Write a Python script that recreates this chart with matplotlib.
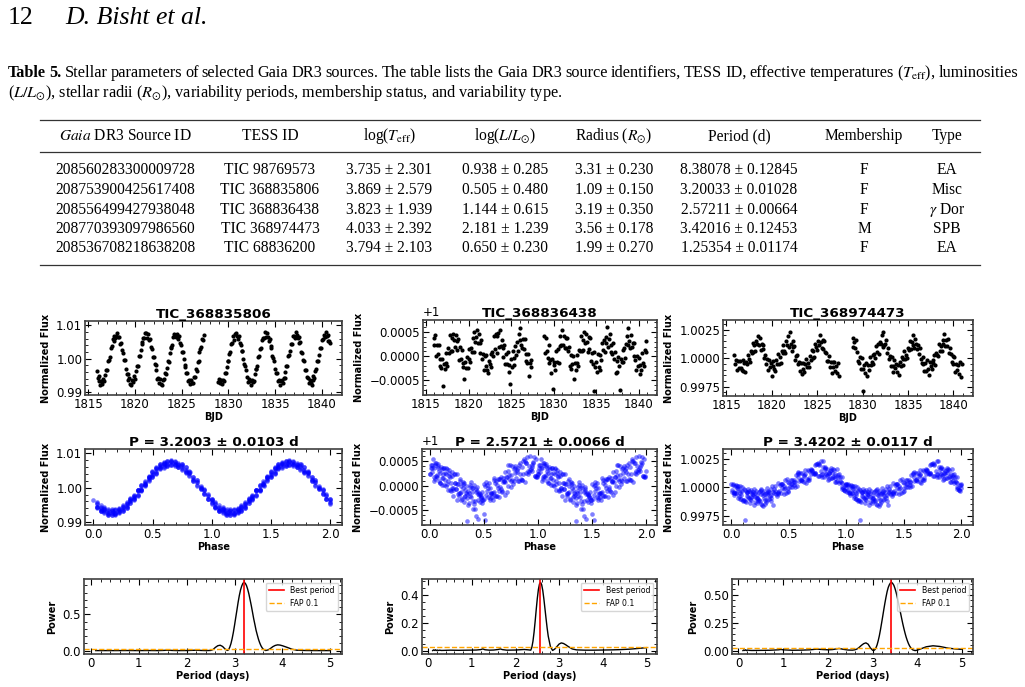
import matplotlib
matplotlib.use("Agg")
import matplotlib.pyplot as plt
import numpy as np
from matplotlib.lines import Line2D

# ---------------- table 5 ----------------
gaia_ids = ["208560283300009728", "208753900425617408", "208556499427938048",
            "208770393097986560", "208536708218638208"]
tess_ids = ["TIC 98769573", "TIC 368835806", "TIC 368836438", "TIC 368974473", "TIC 68836200"]
log_teff = [3.735, 3.869, 3.823, 4.033, 3.794]
log_teff_err = [2.301, 2.579, 1.939, 2.392, 2.103]
log_lum = [0.938, 0.505, 1.144, 2.181, 0.650]
log_lum_err = [0.285, 0.480, 0.615, 1.239, 0.230]
radius = [3.31, 1.09, 3.19, 3.56, 1.99]
radius_err = [0.230, 0.150, 0.350, 0.178, 0.270]
period = [8.38078, 3.20033, 2.57211, 3.42016, 1.25354]
period_err = [0.12845, 0.01028, 0.00664, 0.12453, 0.01174]
membership = ["F", "F", "F", "M", "F"]
var_type = ["EA", "Misc", r"$\gamma$ Dor", "SPB", "EA"]

# ---------------- light curves (TESS, BJD - 2457000) ----------------
tic_names = ["TIC_368835806", "TIC_368836438", "TIC_368974473"]
orbit_start = [1815.9, 1828.9]   # first cadence of each orbit
cadence = 0.1                    # days

# TIC 368835806: (flux - 1) in units of 1e-4
lc1_orbit1 = [-37, -57, -52, -68, -79, -67, -75, -60, -68, -49, -34, -33, -6, -4, 6, 31, 39, 58, 54, 69,
              62, 68, 77, 65, 65, 43, 47, 25, 16, -5, -4, -32,
              -47, -47, -63, -57, -75, -80, -65, -69, -53, -60, -37, -23, -21, 7, 9, 26, 49, 43, 62, 61,
              78, 76, 63, 73, 57, 60, 34, 30, 6, 6, -15, -19,
              -35, -60, -58, -72, -62, -75, -78, -63, -62, -42, -45, -27, -8, -9, 16, 33, 36, 41, 65, 74,
              69, 66, 74, 60, 69, 47, 42, 20, 21, 0, -18, -24,
              -44, -44, -68, -63, -76, -63, -73, -74, -55, -54, -32, -37, -11, -6, 20, 29, 34, 59, 57, 72]
lc1_orbit2 = [-69, -60, -73, -64, -76, -65, -68, -44, -44, -25, -6, -7, 14, 20, 45, 48, 68, 57, 75, 78,
              68, 59, 69, 46, 42, 22, 22, 0, -17, -22,
              -34, -55, -69, -61, -68, -79, -63, -70, -66, -47, -31, -30, -23, 6, 8, 30, 31, 56, 61, 62,
              79, 65, 76, 65, 54, 60, 37, 32, 7, 3, -6, -32,
              -43, -43, -66, -64, -79, -68, -64, -72, -57, -59, -39, -22, -22, 8, 11, 23, 45, 44, 68, 69,
              62, 79, 70, 61, 64, 48, 49, 20, 17, -4, -7, -34,
              -33, -56, -57, -74, -64, -74, -80, -63, -52, -57, -38, -32, -6, -8, 10, 32, 32, 57, 58, 72,
              66, 81, 67, 70, 53, 52, 46]

# TIC 368836438: (flux - 1) in units of 1e-5
lc2_orbit1 = [23, 37, 45, 1, 24, 5, 23, -20, -5, -24, -5, -62, -16, -27, 6, -14, -20, 17, 7, 43,
              10, 37, 11, 46, 34, 19,
              43, 13, 31, 36, -8, 19, -6, 14, -23, -14, -47, -11, -24, -1, -25, 16, -5, -12, 17, 9,
              37, 9, 51, 30, 39, 55,
              28, 46, 6, 27, 33, -5, 4, -29, 0, -20, 2, -29, -35, -10, -16, 5, -22, 9, 0, 41,
              16, 46, 7, 41, 48, 20,
              54, 22, 34, -1, 17, 23, -16, 4, -16, 8, -32, -19, -58, -5, -22, 10, -3, -18, 21, 3,
              29, 11, 47, 33, 58, 24,
              18, 36, 15, 35, -10, 5, -14, 5, -40, -13, -7, -22]
lc2_orbit2 = [42, 6, 37, 10, -4, 24, -13, -8, -35, -5, -68, -12, -19, -29, 11, -11, 16, -13, 22, 41,
              23, 54, 23, 42, 17, 37,
              18, 38, 11, 20, -21, 3, -26, -15, 1, -47, -14, -28, 2, -14, -21, 14, 10, 42, 11, 33,
              13, 51, 28, 46, 30, 9,
              40, 15, 37, -9, 6, -15, 8, -72, -22, -12, -33, 4, -22, -28, 2, -7, 28, 13, 34, 9,
              39, 27, 60, 19, 36, 46,
              9, 24, 4, 28, -6, 9, -34, -10, -32, -2, -21, -70, -5, -12, 13, -11, 18, -3, 26, 42,
              23, 59, 31, 18, 43, 20,
              27, 1, 27, -8, -29, 0, -20, -3, -37, -17, -28, 7, -14, -21, 13, 8, 31]

# TIC 368974473: (flux - 1) in units of 1e-5
lc3_orbit1 = [25, -55, -17, -106, -20, -82, -25, -85, -107, -14, -116, -41, -120, -30, -51, 31, -8, -36,
              66, 45, 136, 52, 116, 66, 153, 122, 197, 120, 182, 71, 129, 83, 115, 0, 25,
              -47, -11, -102, -15, -74, -46, -155, -72, -22, -93, -109, -17, -53, 38, -49, 14, -41,
              60, 47, 118, 60, 49, 152, 119, 195, 101, 228, 124, 65, 148, 100, 111, -19, 20,
              29, -55, -35, -108, -43, -140, -43, -91, -117, -55, -3, -81, -46, -81, 16, -15, 69,
              0, 64, 9, 121, 97, 70, 150, 114, 203, 139, 92, 156, 85, 150, 53, 44, -21,
              -20, 21, -78, -29, -127, -36, -79, -37, -112, -66, -129, -39, -160]
lc3_orbit2 = [179, 97, 143, 91, 159, 53, -25,
              -38, 7, -93, 3, -290, -93, -57, -132, -44, -159, -62, -101, 11, -62, -33, 27, -52,
              33, 5, 105, 53, 127, 35, 143, 122, 200, 100, 233, 117, 128, 163, 43, 90, -9,
              18, -67, 8, -65, -123, -19, -82, -54, -121, -61, -148, -30, -66, 12, -61, -5, 63,
              -9, 32, 4, 94, 74, 149, 79, 142, 115, 208, 93, 171, 123, 78, 120, 40, 92, -7,
              -42, 12, -52, -111, -40, -112, -18, -95, -145, -36, -64, -97, -19, -38, 32, -60,
              46, 30, 20, 129, 66, 109, 66, 161, 122, 214, 110, 156, 107, 165, 42, 90, 33, -35,
              21, -48, 8, -125, -50, -106, -59, -135, -34, -166, -53]

# ---------------- periods and periodograms ----------------
best_period = [3.2003, 2.5721, 3.4202]
best_period_err = [0.0103, 0.0066, 0.0117]
fap_level = [0.027, 0.026, 0.027]

pg1_period = [0.10, 0.30, 0.50, 0.80, 1.00, 1.20, 1.40, 1.50, 1.60, 1.70, 1.80, 2.00, 2.10, 2.20, 2.30,
              2.40, 2.50, 2.55, 2.60, 2.65, 2.70, 2.75, 2.80, 2.85, 2.875, 2.90, 2.925, 2.95, 2.975, 3.00,
              3.025, 3.05, 3.075, 3.10, 3.125, 3.15, 3.175, 3.20, 3.225, 3.25, 3.275, 3.30, 3.325, 3.35,
              3.375, 3.40, 3.425, 3.45, 3.475, 3.50, 3.525, 3.55, 3.575, 3.60, 3.65, 3.70, 3.75, 3.80,
              3.85, 3.90, 3.95, 4.00, 4.10, 4.20, 4.30, 4.50, 4.70, 5.00]
pg1_power = [0.001, 0.001, 0.001, 0.002, 0.001, 0.002, 0.001, 0.003, 0.006, 0.003, 0.001, 0.002, 0.004,
             0.006, 0.003, 0.001, 0.003, 0.015, 0.045, 0.068, 0.075, 0.058, 0.024, 0.003, 0.012, 0.047,
             0.097, 0.166, 0.251, 0.350, 0.456, 0.560, 0.667, 0.760, 0.836, 0.890, 0.928, 0.940, 0.928,
             0.896, 0.845, 0.780, 0.701, 0.620, 0.531, 0.440, 0.361, 0.280, 0.217, 0.157, 0.109, 0.070,
             0.041, 0.020, 0.002, 0.010, 0.030, 0.055, 0.072, 0.080, 0.077, 0.068, 0.045, 0.020, 0.006,
             0.002, 0.001, 0.001]

pg2_period = [0.10, 0.12, 0.14, 0.16, 0.18, 0.20, 0.23, 0.26, 0.30, 0.40, 0.50, 0.70, 0.90, 1.10, 1.20,
              1.25, 1.30, 1.40, 1.50, 1.60, 1.65, 1.70, 1.80, 2.00, 2.10, 2.20, 2.30, 2.35, 2.375, 2.40,
              2.425, 2.45, 2.475, 2.50, 2.525, 2.55, 2.575, 2.60, 2.625, 2.65, 2.675, 2.70, 2.725, 2.75,
              2.80, 2.85, 2.90, 2.95, 3.00, 3.05, 3.10, 3.15, 3.20, 3.30, 3.40, 3.60, 3.80, 4.00, 4.20,
              4.40, 4.60, 4.80, 5.00]
pg2_power = [0.001, 0.006, 0.002, 0.007, 0.001, 0.005, 0.002, 0.004, 0.002, 0.003, 0.004, 0.003, 0.004,
             0.005, 0.008, 0.013, 0.007, 0.004, 0.005, 0.009, 0.013, 0.008, 0.004, 0.005, 0.007, 0.009,
             0.006, 0.004, 0.025, 0.068, 0.132, 0.210, 0.296, 0.376, 0.440, 0.479, 0.490, 0.473, 0.432,
             0.372, 0.302, 0.231, 0.163, 0.105, 0.030, 0.002, 0.012, 0.030, 0.048, 0.056, 0.052, 0.043,
             0.032, 0.013, 0.006, 0.004, 0.004, 0.005, 0.006, 0.008, 0.011, 0.016, 0.022]

pg3_period = [0.10, 0.12, 0.14, 0.16, 0.18, 0.20, 0.25, 0.30, 0.50, 0.70, 0.90, 0.95, 1.00, 1.20, 1.40,
              1.60, 1.75, 1.90, 2.00, 2.10, 2.25, 2.35, 2.45, 2.55, 2.60, 2.65, 2.70, 2.75, 2.80, 2.85,
              2.90, 2.95, 3.00, 3.025, 3.05, 3.075, 3.10, 3.125, 3.15, 3.175, 3.20, 3.225, 3.25, 3.275,
              3.30, 3.325, 3.35, 3.375, 3.40, 3.425, 3.45, 3.475, 3.50, 3.525, 3.55, 3.575, 3.60, 3.625,
              3.65, 3.675, 3.70, 3.725, 3.75, 3.775, 3.80, 3.825, 3.85, 3.875, 3.90, 3.95, 4.00, 4.10,
              4.20, 4.35, 4.50, 4.70, 4.85, 5.00]
pg3_power = [0.001, 0.007, 0.002, 0.008, 0.001, 0.006, 0.003, 0.002, 0.003, 0.004, 0.008, 0.011, 0.008,
             0.004, 0.005, 0.008, 0.014, 0.010, 0.008, 0.010, 0.020, 0.012, 0.006, 0.005, 0.008, 0.015,
             0.030, 0.048, 0.063, 0.070, 0.058, 0.025, 0.004, 0.002, 0.009, 0.026, 0.052, 0.089, 0.133,
             0.186, 0.245, 0.305, 0.367, 0.426, 0.480, 0.529, 0.566, 0.590, 0.606, 0.610, 0.600, 0.584,
             0.556, 0.522, 0.480, 0.434, 0.385, 0.336, 0.287, 0.240, 0.197, 0.157, 0.121, 0.091, 0.065,
             0.044, 0.028, 0.016, 0.007, 0.001, 0.005, 0.020, 0.035, 0.044, 0.038, 0.022, 0.016, 0.012]

# ------------------------------------------------------------------
W, H = 1025, 687
SERIF = "Liberation Serif"
plt.rcParams["mathtext.fontset"] = "stix"

fig = plt.figure(figsize=(W / 100, H / 100), dpi=100)
renderer = fig.canvas.get_renderer()


def fy(y):
    return 1 - y / H


def add_axes_px(x0, y0, x1, y1):
    return fig.add_axes([x0 / W, 1 - y1 / H, (x1 - x0) / W, (y1 - y0) / H])


# page header
fig.text(8 / W, fy(24), "12", family=SERIF, fontsize=18.5, va="baseline")
fig.text(65 / W, fy(24), "D. Bisht et al.", family=SERIF, style="italic", fontsize=18.5, va="baseline")

# caption, first line justified
CAP = 11.7
line1 = ("Table 5. Stellar parameters of selected Gaia DR3 sources. The table lists the Gaia DR3 "
         r"source identifiers, TESS ID, effective temperatures ($T_{\mathrm{eff}}$), luminosities").split(" ")
words = []
for i, w in enumerate(line1):
    words.append(fig.text(0, fy(77), w, family=SERIF, fontsize=CAP, va="baseline",
                          weight="bold" if i < 2 else "normal"))
widths = [t.get_window_extent(renderer).width for t in words]
gap = (1018 - 8 - sum(widths)) / (len(words) - 1)
x = 8
for t, w in zip(words, widths):
    t.set_x(x / W)
    x += w + gap
fig.text(8 / W, fy(97), r"($L/L_{\odot}$), stellar radii ($R_{\odot}$), variability periods, "
         "membership status, and variability type.", family=SERIF, fontsize=CAP, va="baseline")

# table
TAB = 11.2
col_x = [125, 270, 389, 505, 614, 739, 864, 947]
headers = [r"$\it{Gaia}$ DR3 Source ID", "TESS ID", r"log($T_{\mathrm{eff}}$)", r"log($L/L_{\odot}$)",
           r"Radius ($R_{\odot}$)", "Period (d)", "Membership", "Type"]
for cx, h in zip(col_x, headers):
    fig.text(cx / W, fy(140.5), h, family=SERIF, fontsize=TAB, ha="center", va="baseline")
row_y = [174.5, 194, 213.5, 233, 252]
for i, ry in enumerate(row_y):
    cells = [gaia_ids[i], tess_ids[i],
             f"{log_teff[i]:.3f} ± {log_teff_err[i]:.3f}",
             f"{log_lum[i]:.3f} ± {log_lum_err[i]:.3f}",
             f"{radius[i]:.2f} ± {radius_err[i]:.3f}",
             f"{period[i]:.5f} ± {period_err[i]:.5f}",
             membership[i], var_type[i]]
    for cx, c in zip(col_x, cells):
        fig.text(cx / W, fy(ry), c, family=SERIF, fontsize=TAB, ha="center", va="baseline")
for ly in (120, 152, 265):
    fig.add_artist(Line2D([40 / W, 980 / W], [fy(ly), fy(ly)], color="0.2", lw=0.9))


# ------------------------------------------------------------------
def style(ax):
    ax.minorticks_on()
    ax.tick_params(which="both", direction="in", top=True, right=True, labelsize=8.5, pad=2)
    ax.tick_params(which="major", length=4, width=0.8)
    ax.tick_params(which="minor", length=2, width=0.6)
    for s in ax.spines.values():
        s.set_linewidth(1.2)
        s.set_color("0.25")
    ax.yaxis.get_offset_text().set_fontsize(8.5)


LBL = dict(fontsize=7, fontweight="bold")
TTL = dict(fontsize=9.7, fontweight="bold", pad=1)

curves = [
    1 + np.concatenate([lc1_orbit1, lc1_orbit2]) * 1e-4,
    1 + np.concatenate([lc2_orbit1, lc2_orbit2]) * 1e-5,
    1 + np.concatenate([lc3_orbit1, lc3_orbit2]) * 1e-5,
]
orbits = [(lc1_orbit1, lc1_orbit2), (lc2_orbit1, lc2_orbit2), (lc3_orbit1, lc3_orbit2)]
times = [np.concatenate([orbit_start[0] + cadence * np.arange(len(a)),
                         orbit_start[1] + cadence * np.arange(len(b))]) for a, b in orbits]
periodograms = [(pg1_period, pg1_power), (pg2_period, pg2_power), (pg3_period, pg3_power)]

row1_px = [(85, 321, 342, 395), (423, 320, 657, 395), (723, 320, 973, 396)]
row2_px = [(85, 449, 342, 525), (422, 449, 657, 525), (723, 449, 973, 525)]
row3_px = [(84, 579, 342, 654), (422, 579, 657, 654), (732, 579, 973, 654)]
ylims = [(0.9891, 1.0113), (1 - 0.00080, 1 + 0.00075), (0.99668, 1.00336)]
yticks = [[0.99, 1.00, 1.01], [0.9995, 1.0, 1.0005], [0.9975, 1.0, 1.0025]]
pg_yticks = [[0.0, 0.5], [0.0, 0.2, 0.4], [0.0, 0.25, 0.5]]

for i in range(3):
    t, f = times[i], curves[i]

    ax = add_axes_px(*row1_px[i])
    ax.scatter(t, f, s=9, c="black", linewidths=0)
    ax.set_xlim(1814.65, 1842.15)
    ax.set_ylim(*ylims[i])
    ax.set_yticks(yticks[i])
    ax.ticklabel_format(axis="y", useOffset=(1 if i == 1 else False))
    style(ax)
    ax.set_title(tic_names[i], **TTL)
    ax.set_xlabel("BJD", labelpad=1, **LBL)
    ax.set_ylabel("Normalized Flux", **LBL)

    ax = add_axes_px(*row2_px[i])
    phase = ((t - t[0]) / best_period[i]) % 1
    ax.scatter(np.concatenate([phase, phase + 1]), np.concatenate([f, f]),
               s=11, c="blue", alpha=0.5, linewidths=0)
    ax.set_xlim(-0.07, 2.1)
    ax.set_ylim(*ylims[i])
    ax.set_yticks(yticks[i])
    ax.ticklabel_format(axis="y", useOffset=(1 if i == 1 else False))
    style(ax)
    ax.set_title(f"P = {best_period[i]:.4f} ± {best_period_err[i]:.4f} d", **TTL)
    ax.set_xlabel("Phase", labelpad=1, **LBL)
    ax.set_ylabel("Normalized Flux", **LBL)

    ax = add_axes_px(*row3_px[i])
    pp, pw = periodograms[i]
    ax.plot(pp, pw, color="black", lw=1)
    ax.axvline(best_period[i], color="red", lw=1.2, label="Best period")
    ax.axhline(fap_level[i], color="orange", ls="--", lw=1, label="FAP 0.1")
    ax.set_yticks(pg_yticks[i])
    style(ax)
    ax.set_xlabel("Period (days)", labelpad=1, **LBL)
    ax.set_ylabel("Power", **LBL)
    ax.legend(loc="upper right", fontsize=5.6)

fig.savefig("out.png", dpi=100)
